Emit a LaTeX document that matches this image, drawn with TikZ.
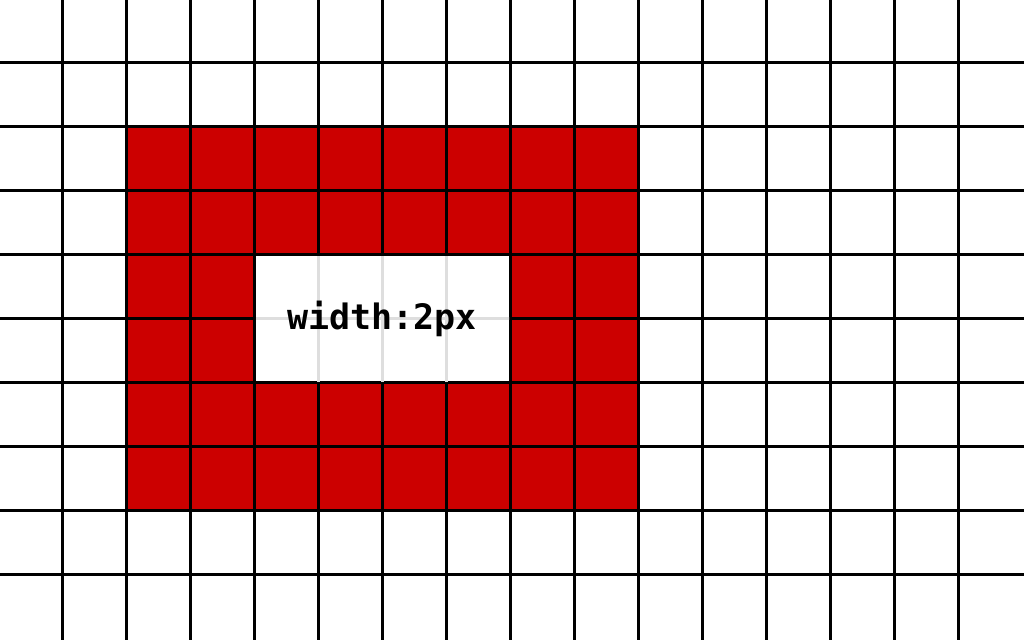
\documentclass[tikz,border=0pt]{standalone}
\usepackage{fontspec}
\newfontfamily\monofont{DejaVu Sans Mono}
\definecolor{boxred}{HTML}{CC0000}
\definecolor{faint}{HTML}{DEDEDE}
\tikzset{
  gridline/.style={draw=black,line width=3pt},
  faintline/.style={draw=faint,line width=2.5pt},
}
\begin{document}
\begin{tikzpicture}[x=1pt,y=-1pt]
\useasboundingbox[fill=white] (0,0) rectangle (1024,640);
\fill[boxred] (126.5,126.5) rectangle (638.5,510.5);
\foreach \k in {0,...,14} { \draw[gridline] (62.5+64*\k,0) -- (62.5+64*\k,640); }
\foreach \k in {0,...,8} { \draw[gridline] (0,62.5+64*\k) -- (1024,62.5+64*\k); }
\fill[white] (256,256) rectangle (509,381);
\begin{scope}
\clip (256,256) rectangle (509,381);
\foreach \xx in {318.5,382.5,446.5} { \draw[faintline] (\xx,250) -- (\xx,390); }
\draw[faintline] (250,318.5) -- (515,318.5);
\end{scope}
\node[anchor=base,inner sep=0pt,font=\monofont\bfseries\fontsize{35}{38}\selectfont] (label) at (382,329) {width:2px};
\end{tikzpicture}
\end{document}
